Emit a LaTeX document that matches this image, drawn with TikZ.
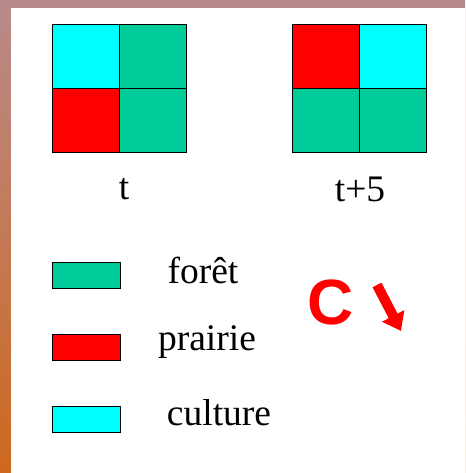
\documentclass[tikz,border=0pt]{standalone}
\usepackage{fontspec}
\setmainfont{Liberation Serif}
\newfontfamily\arialfont{Liberation Sans}
\usetikzlibrary{arrows.meta}
\definecolor{foret}{RGB}{0,204,153}
\definecolor{prairie}{RGB}{255,0,0}
\definecolor{culture}{RGB}{0,255,255}
\definecolor{frametop}{RGB}{185,138,140}
\definecolor{framebot}{RGB}{206,104,30}
\tikzset{
  cell/.style={draw=black,line width=1pt,minimum width=67pt,minimum height=64pt,inner sep=0pt,outer sep=0pt},
  key/.style={draw=black,line width=1pt,minimum width=68pt,minimum height=26pt,inner sep=0pt,outer sep=0pt},
  lbl/.style={inner sep=0pt,font=\fontsize{37.5}{42}\selectfont}
}
\begin{document}
\begin{tikzpicture}[x=1pt,y=-1pt]
\path[use as bounding box] (0,0) rectangle (465,473);
\shade[top color=frametop,bottom color=framebot] (0,0) rectangle (465,473);
\fill[white] (11,8) rectangle (465,473);
\node[cell,fill=culture] (a11) at (85.5,57) {};
\node[cell,fill=foret] (a12) at (152.5,57) {};
\node[cell,fill=prairie] (a21) at (85.5,121) {};
\node[cell,fill=foret] (a22) at (152.5,121) {};
\node[cell,fill=prairie] (b11) at (325.5,57) {};
\node[cell,fill=culture] (b12) at (392.5,57) {};
\node[cell,fill=foret] (b21) at (325.5,121) {};
\node[cell,fill=foret] (b22) at (392.5,121) {};
\node[lbl] (tlbl) at (124,189) {t};
\node[lbl] (t5lbl) at (360,189) {t+5};
\node[key,fill=foret] (kforet) at (86,275) {};
\node[key,fill=prairie] (kprairie) at (86,347) {};
\node[key,fill=culture] (kculture) at (86,419.5) {};
\node[lbl] (lforet) at (203,270) {forêt};
\node[lbl] (lprairie) at (207,342) {prairie};
\node[lbl] (lculture) at (219,413) {culture};
\node[inner sep=0pt,text=red,font=\arialfont\bfseries\fontsize{64}{70}\selectfont] (cc) at (331,302) {C};
\coordinate (as) at (377,285);
\coordinate (ae) at (401,331);
\draw[red,line width=10pt,-{Triangle[width=24pt,length=17pt]}] (as) -- (ae);
\end{tikzpicture}
\end{document}
